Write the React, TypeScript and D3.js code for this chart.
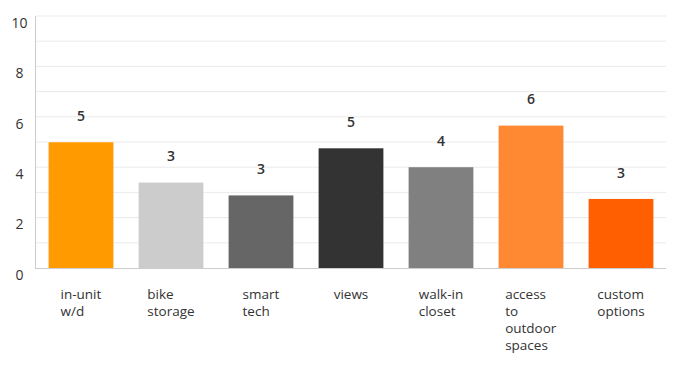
import React from "react";
import * as d3 from "d3";

const categories: string[][] = [
  ["in-unit", "w/d"],
  ["bike", "storage"],
  ["smart", "tech"],
  ["views"],
  ["walk-in", "closet"],
  ["access", "to", "outdoor", "spaces"],
  ["custom", "options"],
];
const values = [4.99, 3.39, 2.88, 4.75, 4.0, 5.65, 2.74];
const valueLabels = ["5", "3", "3", "5", "4", "6", "3"];
const colors = ["#FF9B00", "#CCCCCC", "#666666", "#333333", "#808080", "#FF8833", "#FF5F00"];
const yTicks = [0, 2, 4, 6, 8, 10];
const gridTicks = [1, 2, 3, 4, 5, 6, 7, 8, 9, 10];

const FONT = "'Open Sans', 'DejaVu Sans', sans-serif";

function Label({ lines, cx }: { lines: string[]; cx: number }) {
  const ref = React.useRef<SVGGElement>(null);
  const [w, setW] = React.useState(0);
  React.useLayoutEffect(() => {
    if (ref.current) setW(ref.current.getBBox().width);
  }, []);
  return (
    <g ref={ref} transform={`translate(${cx - w / 2},0)`}>
      {lines.map((l, i) => (
        <text key={i} x={0} y={299 + i * 17} fontSize={13.5} fill="#333" fontFamily={FONT}>
          {l}
        </text>
      ))}
    </g>
  );
}

export default function App() {
  const x = d3
    .scaleBand<number>()
    .domain(d3.range(categories.length))
    .range([36, 666])
    .paddingInner(0.28)
    .paddingOuter(0.14);
  const y = d3.scaleLinear().domain([0, 10]).range([268, 16]);
  return (
    <div style={{ position: "absolute", left: 0, top: 0 }}>
      <svg width={688} height={373} style={{ display: "block" }}>
        <rect width={688} height={373} fill="#fff" />
        {gridTicks.map((t) => (
          <line key={t} x1={36} x2={666} y1={y(t)} y2={y(t)} stroke="#ebebeb" strokeWidth={1} />
        ))}
        {values.map((v, i) => (
          <rect key={i} x={x(i)!} width={x.bandwidth()} y={y(v)} height={y(0) - y(v)} fill={colors[i]} />
        ))}
        <line x1={35.5} x2={35.5} y1={16} y2={268} stroke="#cccccc" />
        <line x1={35} x2={666} y1={268.5} y2={268.5} stroke="#cccccc" />
        {yTicks.map((t) => (
          <text key={t} x={19.5} y={y(t) + 8} textAnchor="middle" dominantBaseline="middle" fontSize={14} fill="#333" fontFamily={FONT}>
            {t}
          </text>
        ))}
        {values.map((v, i) => (
          <text key={i} x={x(i)! + x.bandwidth() / 2} y={y(v) - 25} textAnchor="middle" dominantBaseline="middle" fontSize={14} fontWeight={600} fill="#333" fontFamily={FONT}>
            {valueLabels[i]}
          </text>
        ))}
        {categories.map((c, i) => (
          <Label key={i} lines={c} cx={x(i)! + x.bandwidth() / 2} />
        ))}
      </svg>
    </div>
  );
}
